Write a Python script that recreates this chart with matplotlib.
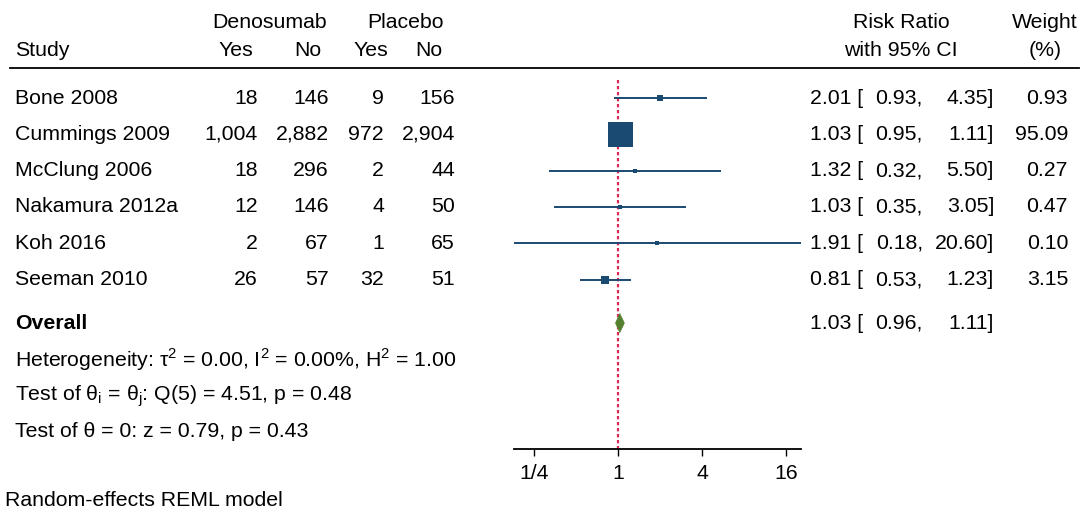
import matplotlib
matplotlib.use("Agg")
import matplotlib.pyplot as plt
from matplotlib import transforms
from matplotlib.lines import Line2D
from matplotlib.patches import Polygon

plt.rcParams["font.family"] = ["Liberation Sans", "DejaVu Sans"]
plt.rcParams["font.size"] = 15.3
plt.rcParams["mathtext.fontset"] = "custom"
plt.rcParams["mathtext.rm"] = "Liberation Sans"

# study-level data
studies = ["Bone 2008", "Cummings 2009", "McClung 2006", "Nakamura 2012a", "Koh 2016", "Seeman 2010"]
dens_yes = [18, 1004, 18, 12, 2, 26]
dens_no = [146, 2882, 296, 146, 67, 57]
plac_yes = [9, 972, 2, 4, 1, 32]
plac_no = [156, 2904, 44, 50, 65, 51]
rr = [2.01, 1.03, 1.32, 1.03, 1.91, 0.81]
ci_lo = [0.93, 0.95, 0.32, 0.35, 0.18, 0.53]
ci_hi = [4.35, 1.11, 5.50, 3.05, 20.60, 1.23]
weight = [0.93, 95.09, 0.27, 0.47, 0.10, 3.15]

overall_rr, overall_lo, overall_hi = 1.03, 0.96, 1.11
het_text = r"Heterogeneity: τ$^\mathregular{2}$ = 0.00, I$^\mathregular{2}$ = 0.00%, H$^\mathregular{2}$ = 1.00"
test_text1 = r"Test of θ$_\mathregular{i}$ = θ$_\mathregular{j}$: Q(5) = 4.51, p = 0.48"
test_text2 = "Test of θ = 0: z = 0.79, p = 0.43"
xticks = [0.25, 1, 4, 16]
xtick_labels = ["1/4", "1", "4", "16"]

W, H = 1089, 521
NAVY = "#1a4a72"
GREEN = "#55802f"
RED = "#dc2a55"

fig = plt.figure(figsize=(W / 100, H / 100), dpi=100)


def fx(px):
    return px / W


def fy(py):
    return (H - py) / H


# forest axes: spans log range of the widest CI
ax_left, ax_right, ax_top, ax_bot = 514, 801.5, 68, 449
ax = fig.add_axes([fx(ax_left), fy(ax_bot), fx(ax_right - ax_left), (ax_bot - ax_top) / H])
ax.set_xscale("log", base=2)
ax.set_xlim(0.18, 20.6)
row0, step = 98, 36.3
ax.set_ylim((ax_bot - row0) / step, (ax_top - row0) / step)
for s in ["top", "left", "right"]:
    ax.spines[s].set_visible(False)
ax.spines["bottom"].set_linewidth(1.3)
ax.set_yticks([])
ax.set_xticks(xticks)
ax.set_xticklabels(xtick_labels)
ax.xaxis.set_minor_locator(matplotlib.ticker.NullLocator())
ax.tick_params(axis="x", length=5, width=1, pad=6, labelsize=15.3)

ys = list(range(len(studies)))
y_overall = 6.2

ax.vlines(1, -0.5, ax.get_ylim()[0], colors=RED, linestyles=(0, (1.5, 1.2)), lw=1.6, zorder=1)
ax.hlines(ys, ci_lo, ci_hi, colors=NAVY, lw=1.4, zorder=2)
for y, r, w in zip(ys, rr, weight):
    side_px = 3 + 22 * (w / max(weight)) ** 0.5
    ax.plot([r], [y], marker="s", ms=side_px * 0.72, color=NAVY, mec=NAVY, mew=0, zorder=3)

dh = 9.5 / step
ax.add_patch(Polygon([(overall_lo, y_overall), (overall_rr, y_overall - dh),
                      (overall_hi, y_overall), (overall_rr, y_overall + dh)],
                     closed=True, fc=GREEN, ec=GREEN, lw=0.5, zorder=3))

# text columns: x in figure fraction, y in row units
tr = transforms.blended_transform_factory(fig.transFigure, ax.transData)


def row_text(x, y, s, ha="right", **kw):
    ax.text(fx(x), y, s, transform=tr, ha=ha, va="center", clip_on=False, **kw)


for y, name, a, b, c, d, r, lo, hi, w in zip(ys, studies, dens_yes, dens_no, plac_yes, plac_no,
                                                rr, ci_lo, ci_hi, weight):
    row_text(15, y, name, ha="left")
    row_text(258, y, f"{a:,}")
    row_text(329, y, f"{b:,}")
    row_text(384, y, f"{c:,}")
    row_text(455, y, f"{d:,}")
    row_text(863, y, f"{r:.2f} [")
    row_text(923, y, f"{lo:.2f},")
    row_text(994, y, f"{hi:.2f}]")
    row_text(1068, y, f"{w:.2f}")

row_text(15, y_overall, "Overall", ha="left", fontweight="bold")
row_text(863, y_overall, f"{overall_rr:.2f} [")
row_text(923, y_overall, f"{overall_lo:.2f},")
row_text(994, y_overall, f"{overall_hi:.2f}]")
row_text(15, 7.2, het_text, ha="left")
row_text(15, 8.2, test_text1, ha="left")
row_text(15, 9.2, test_text2, ha="left")

# header
def head(x, y, s, ha="center"):
    fig.text(fx(x), fy(y), s, ha=ha, va="center")


head(270, 23, "Denosumab")
head(406, 23, "Placebo")
head(15, 51, "Study", ha="left")
head(236, 51, "Yes")
head(308, 51, "No")
head(371, 51, "Yes")
head(429, 51, "No")
head(901, 23, "Risk Ratio")
head(901, 51, "with 95% CI")
head(1045, 23, "Weight")
head(1045, 51, "(%)")
fig.add_artist(Line2D([fx(10), fx(1079)], [fy(68), fy(68)], color="black", lw=1.3))

fig.text(fx(5), fy(501), "Random-effects REML model", ha="left", va="center")

fig.savefig("out.png", dpi=100)
